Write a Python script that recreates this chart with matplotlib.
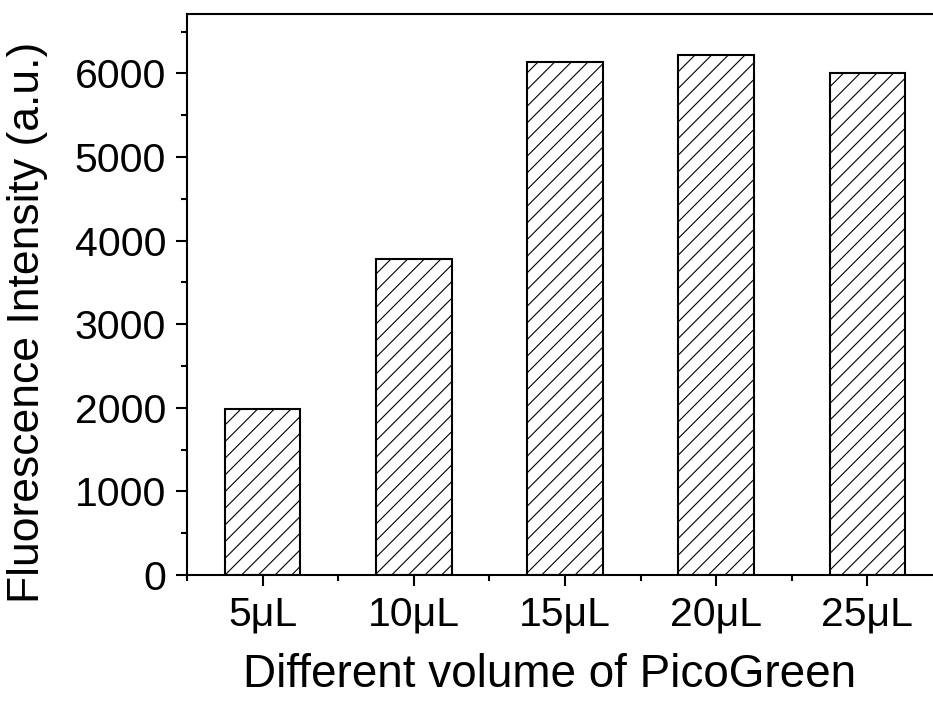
import matplotlib.pyplot as plt
from matplotlib.ticker import MultipleLocator
import numpy as np

plt.rcParams['font.family'] = ['Liberation Sans', 'DejaVu Sans']
plt.rcParams['hatch.linewidth'] = 0.8

labels = ['5μL', '10μL', '15μL', '20μL', '25μL']
intensity = [1982, 3780, 6136, 6224, 6000]

x = np.arange(1, len(labels) + 1)

fig = plt.figure(figsize=(9.33, 7.04), dpi=100)
ax = fig.add_axes([187 / 933, 129 / 704, 756 / 933, 561 / 704])

ax.bar(x, intensity, width=0.5, color='white', edgecolor='black',
       linewidth=1.5, hatch='//')

ax.set_xlim(0.5, 5.5)
ax.set_ylim(0, 6710)
ax.set_xticks(x)
ax.set_xticklabels(labels)
ax.xaxis.set_minor_locator(MultipleLocator(1, offset=0.5))
ax.yaxis.set_major_locator(MultipleLocator(1000))
ax.yaxis.set_minor_locator(MultipleLocator(500))

ax.tick_params(which='major', direction='out', length=8, width=1.5,
               labelsize=29.5, pad=7)
ax.tick_params(which='minor', direction='out', length=4, width=1.5)
ax.tick_params(axis='x', which='both', top=False)
ax.tick_params(axis='y', which='both', right=False)
for s in ax.spines.values():
    s.set_linewidth(1.5)

ax.set_xlabel('Different volume of PicoGreen', fontsize=33)
ax.set_ylabel('Fluorescence Intensity (a.u.)', fontsize=32)
ax.xaxis.set_label_coords(0.479, -0.139)
ax.yaxis.set_label_coords(-0.184, 0.451)

fig.savefig('out.png', dpi=100)
